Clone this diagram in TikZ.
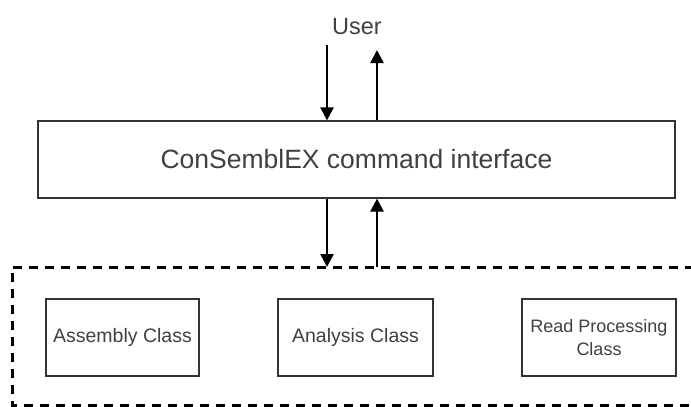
\documentclass[tikz,border=0pt]{standalone}
\usepackage{fontspec}
\setmainfont{Liberation Sans}
\usetikzlibrary{arrows.meta}
\begin{document}
\begin{tikzpicture}[x=1pt,y=-1pt,
  box/.style={draw=black!80, line width=1.2pt, rectangle, inner sep=0pt, align=center, text=black!75},
  arr/.style={line width=2.5pt, -{Triangle[length=13pt,width=13pt]}},
  dashbox/.style={line width=3pt, dash pattern=on 9pt off 7pt}]
\useasboundingbox (0,0) rectangle (691,407);
\node[box, minimum width=637pt, minimum height=77pt, font=\fontsize{26.5}{30}\selectfont] (main) at (356.5,159.5) {ConSemblEX command interface};
\node[text=black!75, font=\fontsize{23.5}{26}\selectfont] (user) at (357,27) {User};
\node[box, minimum width=153pt, minimum height=77pt, font=\fontsize{19.5}{23}\selectfont] (asm) at (122.5,337.5) {Assembly Class};
\node[box, minimum width=155pt, minimum height=77pt, font=\fontsize{19.5}{23}\selectfont] (ana) at (355.5,337.5) {Analysis Class};
\node[box, minimum width=154pt, minimum height=77pt, font=\fontsize{18}{23}\selectfont] (rpc) at (599,337.5) {Read Processing\\Class};
\coordinate (d1) at (327,45);
\coordinate (u1) at (377,50);
\coordinate (d2) at (327,267);
\coordinate (u2) at (377,267);
\draw[arr] (d1) -- (d1 |- main.north);
\draw[arr] (u1 |- main.north) -- (u1);
\draw[arr] (main.south -| d2) -- (d2);
\draw[arr] (u2) -- (main.south -| u2);
\draw[dashbox] (694,267) -- (12,267) -- (12,405) -- (694,405);
\end{tikzpicture}
\end{document}
